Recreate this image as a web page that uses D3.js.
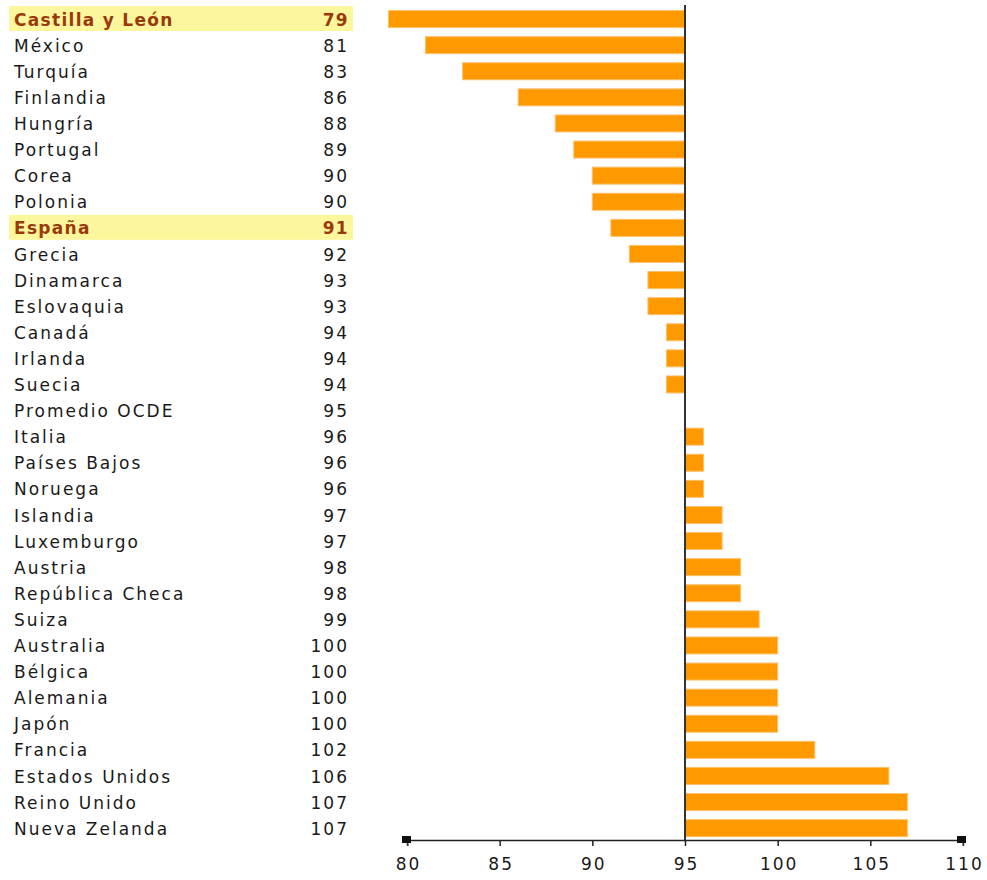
<!DOCTYPE html>
<html>
<head>
<meta charset="utf-8">
<script src="https://cdn.jsdelivr.net/npm/d3@7"></script>
<style>
  body { margin: 0; background: #fff; }
  svg text { font-family: "DejaVu Sans", Verdana, sans-serif; }
</style>
</head>
<body>
<script>
// data
var countries = ["Castilla y León", "México", "Turquía", "Finlandia", "Hungría", "Portugal",
  "Corea", "Polonia", "España", "Grecia", "Dinamarca", "Eslovaquia", "Canadá", "Irlanda",
  "Suecia", "Promedio OCDE", "Italia", "Países Bajos", "Noruega", "Islandia", "Luxemburgo",
  "Austria", "República Checa", "Suiza", "Australia", "Bélgica", "Alemania", "Japón",
  "Francia", "Estados Unidos", "Reino Unido", "Nueva Zelanda"];
var values = [79, 81, 83, 86, 88, 89, 90, 90, 91, 92, 93, 93, 94, 94, 94, 95, 96, 96, 96,
  97, 97, 98, 98, 99, 100, 100, 100, 100, 102, 106, 107, 107];
var highlighted = ["Castilla y León", "España"];
var tickValues = [80, 85, 90, 95, 100, 105, 110];
var baseline = 95;

var width = 987, height = 880;
var rows = countries.map(function(c, i) { return { name: c, value: values[i] }; });

var svg = d3.select("body").append("svg")
	.attr("width", width)
	.attr("height", height);

var x = d3.scaleLinear().domain([80, 110]).range([407, 963]);
var y = d3.scaleBand().domain(countries).range([6, 6 + 32 * 26.1]).paddingInner(0.35).paddingOuter(0.175);
var row = d3.scaleBand().domain(countries).range([6, 6 + 32 * 26.1]);

function isHl(d) { return highlighted.indexOf(d.name) >= 0; }

// yellow highlight rows
svg.selectAll("rect.hl")
	.data(rows.filter(isHl))
	.enter().append("rect")
	.attr("class", "hl")
	.attr("x", 9)
	.attr("width", 344)
	.attr("y", function(d) { return row(d.name); })
	.attr("height", 25)
	.attr("fill", "#fcf79c");

// labels + values
var lab = svg.selectAll("g.lab").data(rows).enter().append("g")
	.attr("class", "lab")
	.attr("transform", function(d) { return "translate(0," + (row(d.name) + row.bandwidth() / 2 + 0.5) + ")"; });

lab.append("text")
	.attr("x", 14)
	.attr("dy", "0.36em")
	.style("font-size", "17px")
	.style("letter-spacing", function(d) { return isHl(d) ? "1.3px" : "2px"; })
	.style("font-weight", function(d) { return isHl(d) ? "bold" : "normal"; })
	.attr("fill", function(d) { return isHl(d) ? "#9a3a0c" : "#1a1a1a"; })
	.text(function(d) { return d.name; });

lab.append("text")
	.attr("x", 349)
	.attr("dy", "0.36em")
	.attr("text-anchor", "end")
	.style("font-size", "17px")
	.style("letter-spacing", function(d) { return isHl(d) ? "1.3px" : "2px"; })
	.style("font-weight", function(d) { return isHl(d) ? "bold" : "normal"; })
	.attr("fill", function(d) { return isHl(d) ? "#9a3a0c" : "#1a1a1a"; })
	.text(function(d) { return d.value; });

// bars from the 95 baseline
svg.selectAll("rect.bar")
	.data(rows.filter(function(d) { return d.value !== baseline; }))
	.enter().append("rect")
	.attr("class", "bar")
	.attr("x", function(d) { return x(Math.min(d.value, baseline)); })
	.attr("width", function(d) { return Math.abs(x(d.value) - x(baseline)); })
	.attr("y", function(d) { return y(d.name); })
	.attr("height", y.bandwidth())
	.attr("fill", "#ff9900")
	.attr("stroke", "#ffbf66")
	.attr("stroke-width", 1);

// vertical baseline
svg.append("line")
	.attr("x1", x(baseline)).attr("x2", x(baseline))
	.attr("y1", 5).attr("y2", 840)
	.attr("stroke", "#333")
	.attr("stroke-width", 2);

// bottom axis
var axisY = 840;
var axis = svg.append("g")
	.attr("transform", "translate(0," + axisY + ")")
	.call(d3.axisBottom(x).tickValues(tickValues).tickSize(6).tickSizeOuter(0).tickPadding(12));

axis.select(".domain").attr("stroke", "#222").attr("stroke-width", 1.5);
axis.selectAll(".tick line").attr("stroke", "#222").attr("stroke-width", 1.5);
axis.selectAll(".tick text")
	.attr("fill", "#1a1a1a")
	.attr("dx", "1px")
	.style("font-size", "17px")
	.style("letter-spacing", "2px")
	.style("font-family", "'DejaVu Sans', Verdana, sans-serif");

// little square caps at the axis ends
[80, 110].forEach(function(v, i) {
	svg.append("rect")
		.attr("x", x(v) - 5 + (i === 0 ? 0 : -1))
		.attr("y", axisY - 4)
		.attr("width", 9)
		.attr("height", 7)
		.attr("fill", "#111");
	svg.append("line")
		.attr("x1", x(v) + (i === 0 ? 1 : 0)).attr("x2", x(v) + (i === 0 ? 1 : 0))
		.attr("y1", axisY + 3).attr("y2", axisY + 6)
		.attr("stroke", "#555");
});
</script>
</body>
</html>
